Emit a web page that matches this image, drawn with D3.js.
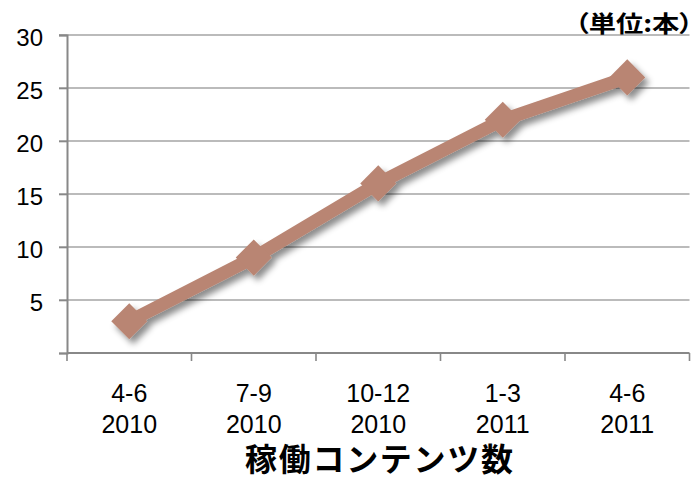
<!DOCTYPE html>
<html>
<head>
<meta charset="utf-8">
<script src="https://cdn.jsdelivr.net/npm/d3@7"></script>
<style>
  html, body { margin: 0; padding: 0; background: #fff; }
  svg { display: block; }
  text { font-family: "Liberation Sans", Arial, sans-serif; fill: #000; }
  .cjk { font-family: "Noto Sans CJK JP", sans-serif; font-weight: bold; }
  .unit { font-feature-settings: "palt"; }
</style>
</head>
<body>
<svg id="chart" width="695" height="481"></svg>
<script>
// Quarterly count of active content items
const quarters = ["4-6", "7-9", "10-12", "1-3", "4-6"];
const years = ["2010", "2010", "2010", "2011", "2011"];
const counts = [3, 9, 16, 22, 26];
const yTicks = [5, 10, 15, 20, 25, 30];
const axisTitle = "稼働コンテンツ数";
const unitLabel = "（単位:本）";

const svg = d3.select("#chart");
const plotLeft = 67, plotRight = 689.5, plotTop = 35, plotBottom = 353;
const lineColor = "#b98573";

const x = d3.scaleBand()
  .domain(d3.range(quarters.length))
  .range([plotLeft, plotRight]);
const y = d3.scaleLinear()
  .domain([0, 30])
  .range([plotBottom, plotTop]);

const defs = svg.append("defs");
const f = defs.append("filter").attr("id", "shadow")
  .attr("x", "-20%").attr("y", "-20%").attr("width", "150%").attr("height", "150%");
f.append("feDropShadow").attr("dx", 4).attr("dy", 5).attr("stdDeviation", 3)
  .attr("flood-color", "#000").attr("flood-opacity", 0.45);

// Horizontal gridlines (with short stubs left of the axis)
svg.append("g").selectAll("line").data(yTicks).join("line")
  .attr("x1", 59).attr("x2", plotRight)
  .attr("y1", d => y(d)).attr("y2", d => y(d))
  .attr("stroke", "#a4a4a4").attr("stroke-width", 1.6);

// Y axis
const yAxis = svg.append("g").attr("transform", `translate(${plotLeft},0)`)
  .call(d3.axisLeft(y).tickValues([0, ...yTicks]).tickSize(8).tickPadding(16)
    .tickFormat(d => d === 0 ? "" : d));
yAxis.select(".domain").attr("stroke", "#888").attr("stroke-width", 2);
yAxis.selectAll(".tick line").attr("stroke", "#888").attr("stroke-width", 1.6);
yAxis.selectAll(".tick text").attr("font-size", 24).attr("dy", "0.42em")
  .attr("font-family", "Liberation Sans, Arial, sans-serif").attr("fill", "#000");

// X axis with ticks on band boundaries
const bounds = d3.range(quarters.length + 1).map(i => plotLeft + i * x.step());
svg.append("line")
  .attr("x1", plotLeft).attr("x2", plotRight)
  .attr("y1", y(0)).attr("y2", y(0))
  .attr("stroke", "#888").attr("stroke-width", 2);
svg.append("g").selectAll("line").data(bounds).join("line")
  .attr("x1", d => d).attr("x2", d => d)
  .attr("y1", y(0)).attr("y2", y(0) + 8)
  .attr("stroke", "#888").attr("stroke-width", 1.6);

// Category labels (quarter over year)
const cx = i => x(i) + x.bandwidth() / 2;
const lab = svg.append("g");
lab.selectAll("text.q").data(quarters).join("text").attr("class", "q")
  .attr("x", (d, i) => cx(i)).attr("y", 402)
  .attr("text-anchor", "middle").attr("font-size", 25).text(d => d);
lab.selectAll("text.yr").data(years).join("text").attr("class", "yr")
  .attr("x", (d, i) => cx(i)).attr("y", 433)
  .attr("text-anchor", "middle").attr("font-size", 25).text(d => d);

// Series line and diamond markers
const series = svg.append("g").attr("filter", "url(#shadow)");
series.append("path")
  .datum(counts)
  .attr("d", d3.line().x((d, i) => cx(i)).y(d => y(d)))
  .attr("fill", "none").attr("stroke", lineColor).attr("stroke-width", 13)
  .attr("stroke-linejoin", "round");
series.selectAll("path.m").data(counts).join("path").attr("class", "m")
  .attr("d", d3.symbol(d3.symbolSquare, 650))
  .attr("transform", (d, i) => `translate(${cx(i)},${y(d)}) rotate(45)`)
  .attr("fill", lineColor);

// Titles
svg.append("text").attr("class", "cjk")
  .attr("x", 379).attr("y", 471).attr("text-anchor", "middle")
  .attr("font-size", 32).attr("textLength", 268).attr("lengthAdjust", "spacing")
  .text(axisTitle);
svg.append("text").attr("class", "cjk unit")
  .attr("x", 575).attr("y", 32)
  .attr("font-size", 23)
  .attr("textLength", 118).attr("lengthAdjust", "spacingAndGlyphs")
  .text(unitLabel);
</script>
</body>
</html>
